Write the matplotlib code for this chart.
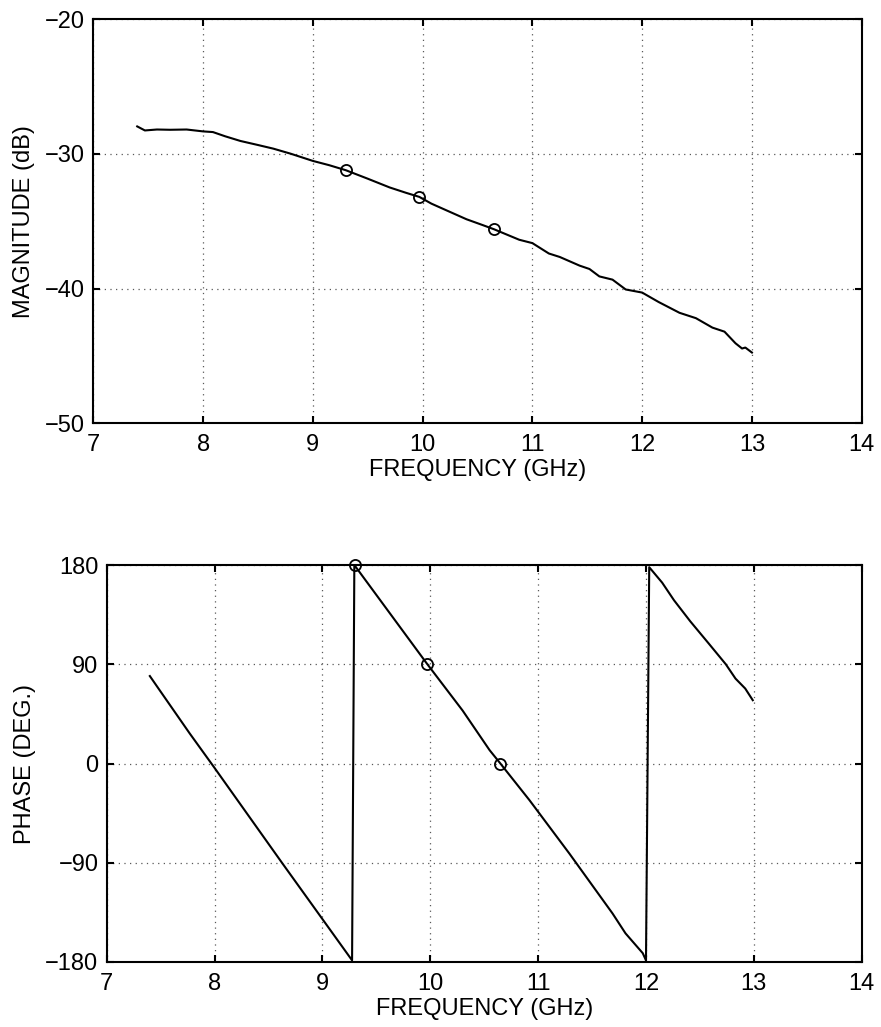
import matplotlib
matplotlib.use("Agg")
import matplotlib.pyplot as plt
import numpy as np

plt.rcParams['font.family'] = ['Liberation Sans', 'DejaVu Sans']

# Magnitude data
mag_freq = [7.40, 7.47, 7.58, 7.70, 7.85, 8.00, 8.09, 8.20, 8.34, 8.50, 8.64, 8.80,
            9.00, 9.15, 9.30, 9.50, 9.70, 9.85, 9.97, 10.08, 10.19, 10.40, 10.55,
            10.65, 10.88, 11.00, 11.15, 11.25, 11.43, 11.52, 11.61, 11.73, 11.85,
            12.00, 12.15, 12.34, 12.49, 12.64, 12.75, 12.85, 12.91, 12.94, 13.00]
mag_db = [-27.97, -28.27, -28.20, -28.22, -28.20, -28.34, -28.39, -28.70, -29.05,
          -29.35, -29.62, -30.00, -30.53, -30.85, -31.22, -31.85, -32.50, -32.90,
          -33.20, -33.70, -34.10, -34.86, -35.30, -35.60, -36.38, -36.63, -37.40,
          -37.66, -38.30, -38.55, -39.10, -39.34, -40.07, -40.30, -41.00, -41.80,
          -42.20, -42.90, -43.20, -44.06, -44.45, -44.38, -44.75]

# Phase data
ph_freq = [7.40, 7.48, 7.77, 8.00, 8.63, 9.275, 9.296, 9.97, 10.30, 10.55, 10.65,
           10.92, 11.29, 11.69, 11.81, 11.97, 12.00, 12.03, 12.15, 12.26, 12.41,
           12.58, 12.74, 12.83, 12.92, 12.99]
ph_deg = [79.3, 68.0, 27.2, -4.0, -90.7, -178.5, 180.0, 90.4, 48.0, 12.1, 0.0,
          -33.3, -81.7, -136.0, -154.0, -172.0, -178.5, 178.0, 164.0, 148.0, 129.0,
          109.0, 90.0, 77.0, 68.0, 57.4]

# Markers
mk_freq = [9.30, 9.97, 10.65]
mk_mag = [-31.2, -33.2, -35.6]
mk_ph = [180.0, 90.4, 0.0]

x_ticks = [7, 8, 9, 10, 11, 12, 13, 14]
mag_ticks = [-50, -40, -30, -20]
ph_ticks = [-180, -90, 0, 90, 180]

W, H = 881, 1027
fig = plt.figure(figsize=(W / 100, H / 100), dpi=100)

ax1 = fig.add_axes([93.3 / W, 1 - 423.3 / H, (861.7 - 93.3) / W, (423.3 - 19) / H])
ax2 = fig.add_axes([106.7 / W, 1 - 962 / H, (861.7 - 106.7) / W, (962 - 565) / H])

fs = 17
for ax in (ax1, ax2):
    for s in ax.spines.values():
        s.set_linewidth(1.5)
    ax.tick_params(direction='in', length=5, width=1.5, top=True, right=True,
                   labelsize=fs)
    ax.tick_params(axis='x', pad=8)
    ax.tick_params(axis='y', pad=6)
    ax.grid(True, linestyle=(0, (1, 3.5)), color='0.35', linewidth=0.9)
    ax.set_xlim(7, 14)
    ax.set_xticks(x_ticks)
    ax.set_xlabel('FREQUENCY (GHz)', fontsize=fs, labelpad=2)

ax1.plot(mag_freq, mag_db, color='black', linewidth=1.5)
ax1.plot(mk_freq, mk_mag, linestyle='none', marker='o', markersize=8,
         markerfacecolor='none', markeredgecolor='black', markeredgewidth=1.3)
ax1.set_ylim(-50, -20)
ax1.set_yticks(mag_ticks)
ax1.set_ylabel('MAGNITUDE (dB)', fontsize=fs, labelpad=7)

ax2.plot(ph_freq, ph_deg, color='black', linewidth=1.5)
ax2.plot(mk_freq, mk_ph, linestyle='none', marker='o', markersize=8,
         markerfacecolor='none', markeredgecolor='black', markeredgewidth=1.3,
         clip_on=False)
ax2.set_ylim(-180, 180)
ax2.set_yticks(ph_ticks)
ax2.set_ylabel('PHASE (DEG.)', fontsize=fs, labelpad=7)

fig.savefig('out.png', dpi=100)
